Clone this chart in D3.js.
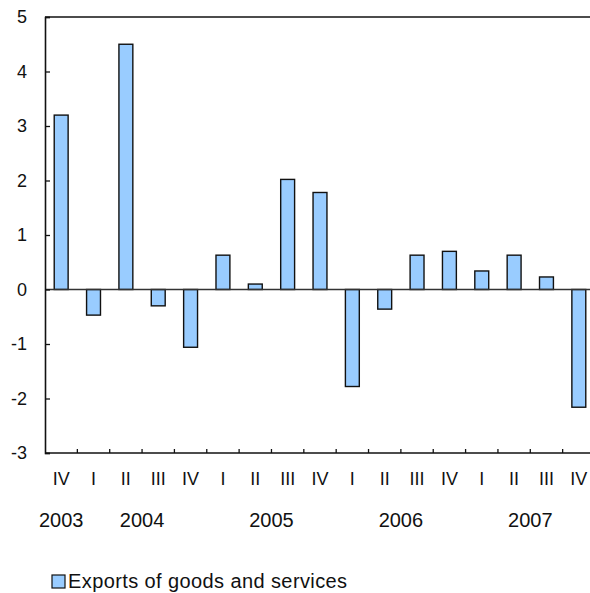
<!DOCTYPE html>
<html>
<head>
<meta charset="utf-8">
<script src="https://cdn.jsdelivr.net/npm/d3@7"></script>
<style>
  html, body { margin: 0; padding: 0; background: #fff; }
  svg { display: block; font-family: "Liberation Sans", Arial, sans-serif; }
</style>
</head>
<body>
<svg id="chart" width="590" height="593"></svg>
<script>
// Quarterly change in exports of goods and services (%)
const quarters = ["IV", "I", "II", "III", "IV", "I", "II", "III", "IV", "I", "II", "III", "IV", "I", "II", "III", "IV"];
const years    = [2003, 2004, 2004, 2004, 2004, 2005, 2005, 2005, 2005, 2006, 2006, 2006, 2006, 2007, 2007, 2007, 2007];
const exportsChange = [3.2, -0.47, 4.5, -0.3, -1.06, 0.63, 0.1, 2.02, 1.78, -1.78, -0.36, 0.63, 0.7, 0.34, 0.63, 0.23, -2.16];
const yTicks = [5, 4, 3, 2, 1, 0, -1, -2, -3];
const seriesName = "Exports of goods and services";

const svg = d3.select("#chart");
const plotLeft = 45, plotRight = 595, plotTop = 17, plotBottom = 453;
const barFill = "#99ccff";

const idx = d3.range(exportsChange.length);
const x = d3.scaleBand().domain(idx).range([plotLeft, plotRight])
  .paddingInner(0.57).paddingOuter(0.285);
const y = d3.scaleLinear().domain([-3, 5]).range([plotBottom, plotTop]);

// frame: top border line
svg.append("line")
  .attr("x1", plotLeft).attr("x2", 590).attr("y1", plotTop).attr("y2", plotTop)
  .attr("stroke", "#111").attr("stroke-width", 1.6);

// bars
svg.append("g").selectAll("rect").data(idx).join("rect")
  .attr("x", i => x(i))
  .attr("width", x.bandwidth())
  .attr("y", i => y(Math.max(0, exportsChange[i])))
  .attr("height", i => Math.abs(y(exportsChange[i]) - y(0)))
  .attr("fill", barFill)
  .attr("stroke", "#111")
  .attr("stroke-width", 1.4);

// zero line
svg.append("line")
  .attr("x1", plotLeft).attr("x2", 590).attr("y1", y(0)).attr("y2", y(0))
  .attr("stroke", "#333").attr("stroke-width", 1.3);

// y axis
const yAxis = d3.axisRight(y).tickValues(yTicks).tickSize(5).tickFormat("");
const gy = svg.append("g").attr("transform", `translate(${plotLeft},0)`).call(yAxis);
gy.select(".domain").attr("stroke", "#111").attr("stroke-width", 1.6);
gy.selectAll(".tick line").attr("stroke", "#111").attr("stroke-width", 1.3);

svg.append("g").selectAll("text").data(yTicks).join("text")
  .attr("x", 27).attr("y", d => y(d)).attr("dy", "0.36em")
  .attr("text-anchor", "end").attr("font-size", 18).attr("fill", "#111")
  .text(d => d);

// x axis with boundary ticks pointing up
const step = x.step();
const boundaries = d3.range(1, idx.length);
svg.append("line")
  .attr("x1", plotLeft).attr("x2", 590).attr("y1", plotBottom).attr("y2", plotBottom)
  .attr("stroke", "#111").attr("stroke-width", 1.6);
svg.append("g").selectAll("line").data(boundaries).join("line")
  .attr("x1", k => plotLeft + k * step).attr("x2", k => plotLeft + k * step)
  .attr("y1", plotBottom).attr("y2", plotBottom - 4)
  .attr("stroke", "#111").attr("stroke-width", 1.3);

// quarter labels
svg.append("g").selectAll("text").data(idx).join("text")
  .attr("x", i => x(i) + x.bandwidth() / 2).attr("y", 485)
  .attr("text-anchor", "middle").attr("font-size", 18).attr("fill", "#111")
  .text(i => quarters[i]);

// year labels, centred under each year's quarters
const yearGroups = d3.groups(idx, i => years[i]);
svg.append("g").selectAll("text").data(yearGroups).join("text")
  .attr("x", ([, is]) => d3.mean(is, i => x(i) + x.bandwidth() / 2))
  .attr("y", 527)
  .attr("text-anchor", "middle").attr("font-size", 20).attr("fill", "#111")
  .text(([yr]) => yr);

// legend
const lg = svg.append("g").attr("transform", "translate(52,575)");
lg.append("rect").attr("width", 13).attr("height", 13)
  .attr("fill", barFill).attr("stroke", "#111").attr("stroke-width", 1.2);
lg.append("text").attr("x", 16).attr("y", 13)
  .attr("font-size", 20).attr("letter-spacing", 0.4).attr("fill", "#111").text(seriesName);
</script>
</body>
</html>
